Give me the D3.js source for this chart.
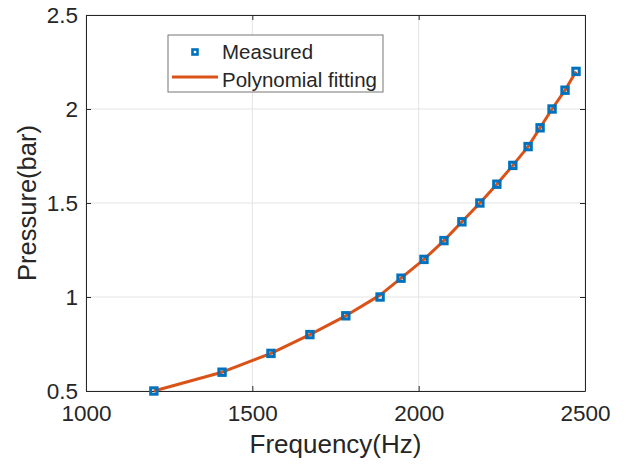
<!DOCTYPE html>
<html>
<head>
<meta charset="utf-8">
<script src="https://cdn.jsdelivr.net/npm/d3@7"></script>
<style>
  body { margin: 0; background: #fff; }
  text { font-family: "Liberation Sans", Arial, sans-serif; fill: #262626; }
</style>
</head>
<body>
<svg id="chart" width="626" height="464"></svg>
<script>
var freq = [1204, 1409, 1556, 1673, 1781, 1884, 1947, 2016, 2076, 2130, 2184, 2235, 2283, 2329, 2365, 2401, 2440, 2473];
var pressure = [0.5, 0.6, 0.7, 0.8, 0.9, 1.0, 1.1, 1.2, 1.3, 1.4, 1.5, 1.6, 1.7, 1.8, 1.9, 2.0, 2.1, 2.2];
// fitted curve values at the same frequencies
var fitPressure = [0.5, 0.6, 0.7, 0.8, 0.9, 1.01, 1.1, 1.2, 1.3, 1.4, 1.5, 1.6, 1.7, 1.8, 1.9, 2.0, 2.1, 2.2];
var xTicks = [1000, 1500, 2000, 2500];
var yTicks = [0.5, 1, 1.5, 2, 2.5];
var seriesNames = ['Measured', 'Polynomial fitting'];

var margin = {left: 86, right: 41, top: 15, bottom: 73};
var width = 626 - margin.left - margin.right;
var height = 464 - margin.top - margin.bottom;
var blue = '#0072BD', orange = '#D95319', axisColor = '#262626';

var svg = d3.select('#chart');
var g = svg.append('g').attr('transform', 'translate(' + margin.left + ',' + margin.top + ')');

var x = d3.scaleLinear().domain([1000, 2500]).range([0, width]);
var y = d3.scaleLinear().domain([0.5, 2.5]).range([height, 0]);

// grid
g.selectAll('.gx').data(xTicks).enter().append('line').attr('class', 'gx')
  .attr('x1', x).attr('x2', x).attr('y1', 0).attr('y2', height)
  .attr('stroke', '#e3e3e3').attr('stroke-width', 1);
g.selectAll('.gy').data(yTicks).enter().append('line').attr('class', 'gy')
  .attr('y1', y).attr('y2', y).attr('x1', 0).attr('x2', width)
  .attr('stroke', '#e3e3e3').attr('stroke-width', 1);

// axes (ticks pointing inward, box on all sides)
var tickLen = 5;
var xAxis = d3.axisBottom(x).tickValues(xTicks).tickSizeInner(-tickLen).tickSizeOuter(0).tickPadding(14).tickFormat(d3.format('d'));
var yAxis = d3.axisLeft(y).tickValues(yTicks).tickSizeInner(-tickLen).tickSizeOuter(0).tickPadding(8).tickFormat(function(d) { return String(d); });
var xTop = d3.axisTop(x).tickValues(xTicks).tickSizeInner(-tickLen).tickSizeOuter(0).tickFormat('');
var yRight = d3.axisRight(y).tickValues(yTicks).tickSizeInner(-tickLen).tickSizeOuter(0).tickFormat('');

[
  g.append('g').attr('transform', 'translate(0,' + height + ')').call(xAxis),
  g.append('g').call(yAxis),
  g.append('g').call(xTop),
  g.append('g').attr('transform', 'translate(' + width + ',0)').call(yRight)
].forEach(function(a) {
  a.select('.domain').attr('stroke', axisColor).attr('stroke-width', 1);
  a.selectAll('.tick line').attr('stroke', axisColor);
  a.selectAll('.tick text').style('font-size', '22.5px').attr('fill', axisColor);
});

// fitted line
var line = d3.line().x(function(d) { return x(d[0]); }).y(function(d) { return y(d[1]); });
g.append('path').datum(d3.zip(freq, fitPressure))
  .attr('d', line).attr('fill', 'none').attr('stroke', orange).attr('stroke-width', 3)
  .attr('stroke-linejoin', 'round');

// measured markers
g.selectAll('.pt').data(d3.zip(freq, pressure)).enter().append('rect').attr('class', 'pt')
  .attr('x', function(d) { return x(d[0]) - 3.2; })
  .attr('y', function(d) { return y(d[1]) - 3.2; })
  .attr('width', 6.4).attr('height', 6.4)
  .attr('fill', 'none').attr('stroke', blue).attr('stroke-width', 3);

// axis labels
svg.append('text').attr('x', margin.left + width / 2).attr('y', 453)
  .attr('text-anchor', 'middle').style('font-size', '26px').text('Frequency(Hz)');
svg.append('text').attr('transform', 'translate(36,' + (margin.top + height / 2) + ') rotate(-90)')
  .attr('text-anchor', 'middle').style('font-size', '25.5px').text('Pressure(bar)');

// legend
var lg = svg.append('g').attr('transform', 'translate(168,35)');
lg.append('rect').attr('width', 215).attr('height', 57).attr('fill', '#fff')
  .attr('stroke', '#777').attr('stroke-width', 1);
lg.append('rect').attr('x', 24.5).attr('y', 14.5).attr('width', 5).attr('height', 5)
  .attr('fill', 'none').attr('stroke', blue).attr('stroke-width', 2.6);
lg.append('line').attr('x1', 4).attr('x2', 50).attr('y1', 42).attr('y2', 42)
  .attr('stroke', orange).attr('stroke-width', 3);
lg.selectAll('.lt').data(seriesNames).enter().append('text').attr('class', 'lt')
  .attr('x', 54).attr('y', function(d, i) { return 24 + i * 28; })
  .style('font-size', '20.5px').text(function(d) { return d; });
</script>
</body>
</html>
